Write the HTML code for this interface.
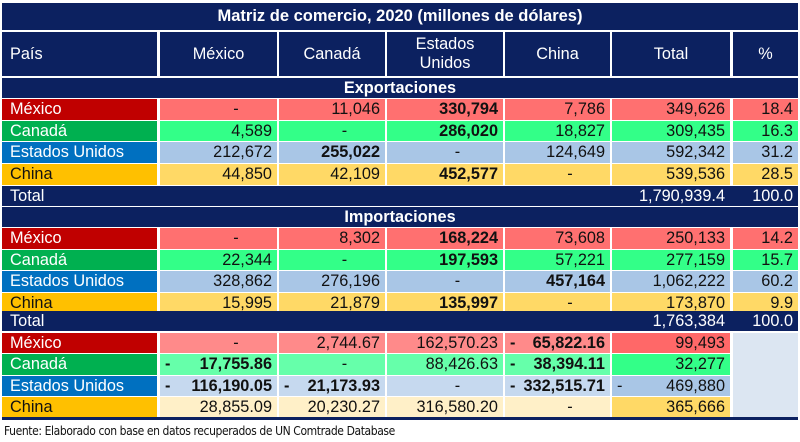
<!DOCTYPE html>
<html><head><meta charset="utf-8"><style>
body{margin:0;width:800px;height:442px;background:#fff;position:relative;overflow:hidden;font-family:"Liberation Sans",Arial,sans-serif;font-size:16.3px;color:#111}
.r{position:absolute;left:0;width:800px}
.c{position:absolute;top:0;bottom:0;box-sizing:border-box;padding:0 5px;display:flex;align-items:center;justify-content:flex-end;white-space:nowrap}
.c0{left:2px;width:155px;justify-content:flex-start;padding-left:8px}
.c1{left:160px;width:117px}.c2{left:279px;width:106px}.c3{left:387px;width:116px}
.c4{left:505px;width:105px}.c5{left:612px;width:118px}.c6{left:733px;width:65px}
.n{background:#0c2160;color:#fff}
.b{font-weight:bold}
.ctr{justify-content:center;text-align:center}
.sb{justify-content:space-between}
.lr{background:#c00000;color:#fff}.lg{background:#00b050;color:#fff}.lb{background:#0070c0;color:#fff}.ly{background:#ffc000;color:#111}
.R{background:#ff7070}.G{background:#33ff88}.B{background:#a9c6e6}.Y{background:#ffd966}
.R2{background:#ff8a8a}.G2{background:#66ffaa}.B2{background:#c6d9ef}.Y2{background:#fff0c8}
</style></head><body>
<div class="r" style="top:3px;height:27px"><div class="c n b ctr" style="left:2px;width:796px;font-size:16.5px">Matriz de comercio, 2020 (millones de dólares)</div></div>
<div class="r" style="top:32px;height:44px">
<div class="c c0 n">País</div><div class="c c1 n ctr">México</div><div class="c c2 n ctr">Canadá</div><div class="c c3 n ctr" style="line-height:19px">Estados<br>Unidos</div><div class="c c4 n ctr">China</div><div class="c c5 n ctr">Total</div><div class="c c6 n ctr">%</div></div>
<div class="r" style="top:78px;height:20px"><div class="c n b ctr" style="left:2px;width:796px">Exportaciones</div></div>
<div class="r" style="top:99px;height:21px"><div class="c c0 lr">México</div><div class="c c1 R ctr" style="padding-left:40px">-</div><div class="c c2 R">11,046</div><div class="c c3 R b">330,794</div><div class="c c4 R">7,786</div><div class="c c5 R">349,626</div><div class="c c6 R">18.4</div></div>
<div class="r" style="top:121px;height:20px"><div class="c c0 lg">Canadá</div><div class="c c1 G">4,589</div><div class="c c2 G ctr" style="padding-left:30px">-</div><div class="c c3 G b">286,020</div><div class="c c4 G">18,827</div><div class="c c5 G">309,435</div><div class="c c6 G">16.3</div></div>
<div class="r" style="top:142px;height:21px"><div class="c c0 lb">Estados Unidos</div><div class="c c1 B">212,672</div><div class="c c2 B b">255,022</div><div class="c c3 B ctr" style="padding-left:30px">-</div><div class="c c4 B">124,649</div><div class="c c5 B">592,342</div><div class="c c6 B">31.2</div></div>
<div class="r" style="top:164px;height:21px"><div class="c c0 ly">China</div><div class="c c1 Y">44,850</div><div class="c c2 Y">42,109</div><div class="c c3 Y b">452,577</div><div class="c c4 Y ctr" style="padding-left:30px">-</div><div class="c c5 Y">539,536</div><div class="c c6 Y">28.5</div></div>
<div class="r" style="top:186px;height:20px"><div class="c n" style="left:2px;width:796px"></div><div class="c c0 n">Total</div><div class="c c5 n">1,790,939.4</div><div class="c c6 n">100.0</div></div>
<div class="r" style="top:207px;height:20px"><div class="c n b ctr" style="left:2px;width:796px">Importaciones</div></div>
<div class="r" style="top:228px;height:21px"><div class="c c0 lr">México</div><div class="c c1 R ctr" style="padding-left:40px">-</div><div class="c c2 R">8,302</div><div class="c c3 R b">168,224</div><div class="c c4 R">73,608</div><div class="c c5 R">250,133</div><div class="c c6 R">14.2</div></div>
<div class="r" style="top:250px;height:20px"><div class="c c0 lg">Canadá</div><div class="c c1 G">22,344</div><div class="c c2 G ctr" style="padding-left:30px">-</div><div class="c c3 G b">197,593</div><div class="c c4 G">57,221</div><div class="c c5 G">277,159</div><div class="c c6 G">15.7</div></div>
<div class="r" style="top:271px;height:21px"><div class="c c0 lb">Estados Unidos</div><div class="c c1 B">328,862</div><div class="c c2 B">276,196</div><div class="c c3 B ctr" style="padding-left:30px">-</div><div class="c c4 B b">457,164</div><div class="c c5 B">1,062,222</div><div class="c c6 B">60.2</div></div>
<div class="r" style="top:293px;height:20px"><div class="c c0 ly">China</div><div class="c c1 Y">15,995</div><div class="c c2 Y">21,879</div><div class="c c3 Y b">135,997</div><div class="c c4 Y ctr" style="padding-left:30px">-</div><div class="c c5 Y">173,870</div><div class="c c6 Y">9.9</div></div>
<div class="r" style="top:311px;height:20px"><div class="c n" style="left:2px;width:796px"></div><div class="c c0 n">Total</div><div class="c c5 n">1,763,384</div><div class="c c6 n">100.0</div></div>
<div class="r" style="top:333px;height:84px"><div class="c c6" style="background:#dce6f2"></div></div>
<div class="r" style="top:333px;height:20px"><div class="c c0 lr">México</div><div class="c c1 R2 ctr" style="padding-left:40px">-</div><div class="c c2 R2">2,744.67</div><div class="c c3 R2">162,570.23</div><div class="c c4 R2 b sb"><span>-</span><span>65,822.16</span></div><div class="c c5" style="background:#ff6868">99,493</div></div>
<div class="r" style="top:354px;height:21px"><div class="c c0 lg">Canadá</div><div class="c c1 G2 b sb"><span>-</span><span>17,755.86</span></div><div class="c c2 G2 ctr" style="padding-left:30px">-</div><div class="c c3 G2">88,426.63</div><div class="c c4 G2 b sb"><span>-</span><span>38,394.11</span></div><div class="c c5 G">32,277</div></div>
<div class="r" style="top:376px;height:20px"><div class="c c0 lb">Estados Unidos</div><div class="c c1 B2 b sb"><span>-</span><span>116,190.05</span></div><div class="c c2 B2 b sb"><span>-</span><span>21,173.93</span></div><div class="c c3 B2 ctr" style="padding-left:30px">-</div><div class="c c4 B2 b sb"><span>-</span><span>332,515.71</span></div><div class="c c5 B sb"><span>-</span><span>469,880</span></div></div>
<div class="r" style="top:397px;height:20px"><div class="c c0 ly">China</div><div class="c c1 Y2">28,855.09</div><div class="c c2 Y2">20,230.27</div><div class="c c3 Y2">316,580.20</div><div class="c c4 Y2 ctr" style="padding-left:30px">-</div><div class="c c5 Y">365,666</div></div>
<div class="r" style="top:417px;height:3px;background:#0c2160;left:2px;width:796px"></div>
<div class="r" style="top:421px;height:20px;left:4px;font-size:12px;line-height:20px;font-family:'DejaVu Sans Condensed','Liberation Sans',sans-serif;letter-spacing:-0.4px">Fuente: Elaborado con base en datos recuperados de UN Comtrade Database</div>
</body></html>
